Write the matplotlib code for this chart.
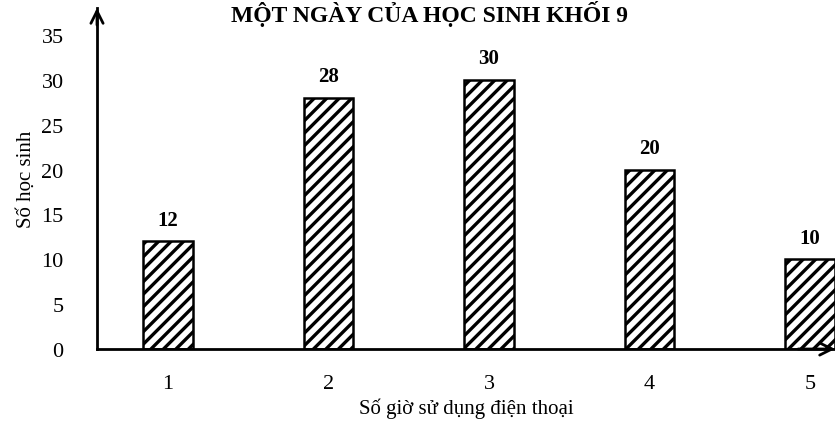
import numpy as np
import matplotlib
matplotlib.use('Agg')
import matplotlib.pyplot as plt
from matplotlib import rcParams
from matplotlib.backend_bases import GraphicsContextBase
from matplotlib.path import Path

# 配置
rcParams.update({
    "font.family": ['Liberation Serif', 'DejaVu Serif'],
    "font.size": 15,
    "hatch.linewidth": 2.4,
})

# 斜线填充稀一点
def _hatch_path(self, density=8.0):
    hatch = self.get_hatch()
    if hatch is None:
        return None
    return Path.hatch(hatch, 8.0)
GraphicsContextBase.get_hatch_path = _hatch_path

# 数据
hours = [1, 2, 3, 4, 5]
students = [12, 28, 30, 20, 10]
yticks = [0, 5, 10, 15, 20, 25, 30, 35]
title = "MỘT NGÀY CỦA HỌC SINH KHỐI 9"

fig = plt.figure(figsize=(8.35, 4.27), dpi=100)
ax = fig.add_axes([97 / 835, 77 / 427, 738 / 835, 341 / 427])

ax.bar(hours, students, width=0.31, color='white', edgecolor='black',
       hatch='//', linewidth=1.8, zorder=2)

for x, v in zip(hours, students):
    ax.text(x, v + 1.3, str(v), ha='center', va='bottom',
            fontsize=15, fontweight='bold')

ax.set_xlim(0.558, 5.156)
ax.set_ylim(0, 38)
ax.set_xticks(hours)
ax.set_yticks(yticks)
ax.tick_params(axis='both', length=0, labelsize=16)
ax.tick_params(axis='y', pad=24)
ax.tick_params(axis='x', pad=18)

for s in ['top', 'right']:
    ax.spines[s].set_visible(False)
for s in ['left', 'bottom']:
    ax.spines[s].set_linewidth(2)

# 坐标轴箭头
ax.annotate('', xy=(1.0, 0), xytext=(0.95, 0), xycoords='axes fraction',
            arrowprops=dict(arrowstyle='->', lw=2, color='black',
                            mutation_scale=22, shrinkA=0, shrinkB=0))
ax.annotate('', xy=(0, 1.0), xytext=(0, 0.95), xycoords='axes fraction',
            arrowprops=dict(arrowstyle='->', lw=2, color='black',
                            mutation_scale=22, shrinkA=0, shrinkB=0))

ax.set_xlabel('Số giờ sử dụng điện thoại', fontsize=15, labelpad=3)
ax.set_ylabel('Số học sinh', fontsize=15, labelpad=4)

fig.text(430 / 835, 1.0 - 1 / 427, title, ha='center', va='top',
         fontsize=17, fontweight='bold')

fig.savefig('out.png', dpi=100)
